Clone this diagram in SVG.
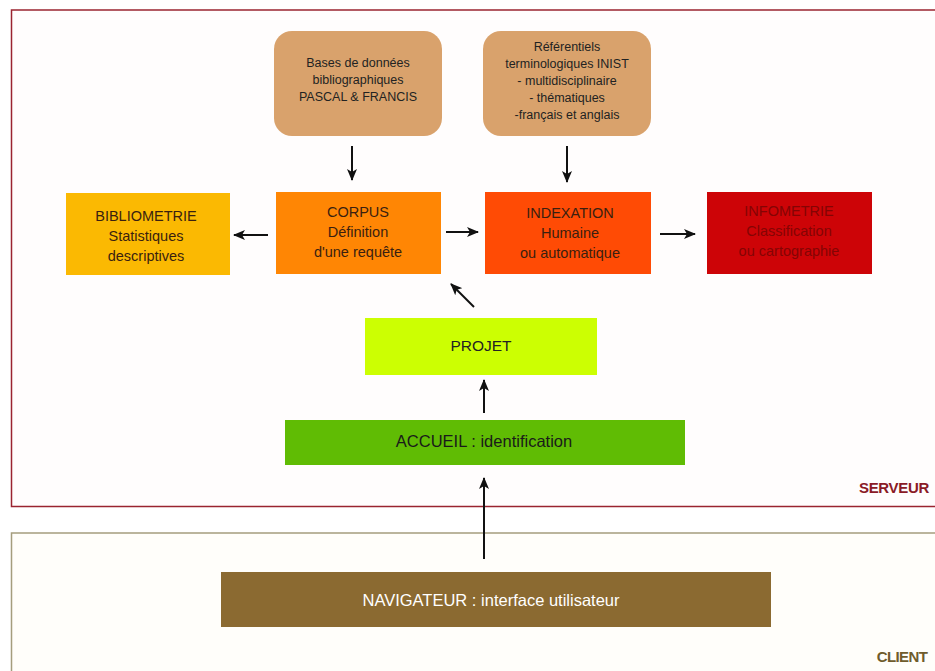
<svg xmlns="http://www.w3.org/2000/svg" width="935" height="671" viewBox="0 0 935 671">
<defs>
<marker id="ah" viewBox="0 0 12 10" refX="11" refY="5" markerWidth="12" markerHeight="10" markerUnits="userSpaceOnUse" orient="auto">
<path d="M0,0 L12,5 L0,10 L3,5 Z" fill="#111"/>
</marker>
<style>
text{font-family:"Liberation Sans",Arial,sans-serif;text-anchor:middle}
.src rect{fill:#d9a26c}
.src text{font-size:12.5px;fill:#222}
.n text{font-size:14.5px;fill:#3a1f10}
.conn line{stroke:#111;stroke-width:2;marker-end:url(#ah)}
</style>
</defs>
<rect width="935" height="671" fill="#ffffff"/>
<g id="serveur">
<rect x="11.5" y="10" width="940" height="496.5" fill="#fffdfd" stroke="#9a2430" stroke-width="1.5"/>
<text x="894" y="493" style="font-size:15px;font-weight:bold;fill:#8a1a26;letter-spacing:-0.3px">SERVEUR</text>
</g>
<g id="client">
<rect x="11.5" y="533" width="940" height="160" fill="#fffefa" stroke="#a59d7d" stroke-width="1.5"/>
<text x="902" y="662" style="font-size:15px;font-weight:bold;fill:#6f5c2c;letter-spacing:-0.6px">CLIENT</text>
</g>
<g id="bases" class="src">
<rect x="274" y="31" width="168" height="105" rx="18"/>
<text x="358" y="67">Bases de données</text>
<text x="358" y="84">bibliographiques</text>
<text x="358" y="101">PASCAL &amp; FRANCIS</text>
</g>
<g id="referentiels" class="src">
<rect x="483" y="31" width="168" height="105" rx="18"/>
<text x="567" y="51">Référentiels</text>
<text x="567" y="68">terminologiques INIST</text>
<text x="567" y="85">- multidisciplinaire</text>
<text x="567" y="102">- thématiques</text>
<text x="567" y="119">-français et anglais</text>
</g>
<g id="bibliometrie" class="n">
<rect x="66" y="193" width="164" height="82" fill="#fbb902"/>
<text x="146" y="221">BIBLIOMETRIE</text>
<text x="146" y="241">Statistiques</text>
<text x="146" y="261">descriptives</text>
</g>
<g id="corpus" class="n">
<rect x="276" y="192" width="165" height="82" fill="#ff8604"/>
<text x="358" y="217">CORPUS</text>
<text x="358" y="237">Définition</text>
<text x="358" y="257">d'une requête</text>
</g>
<g id="indexation" class="n">
<rect x="485" y="192" width="166" height="82" fill="#ff4b05"/>
<text x="570" y="218">INDEXATION</text>
<text x="570" y="238">Humaine</text>
<text x="570" y="258">ou automatique</text>
</g>
<g id="infometrie" class="n">
<rect x="707" y="192" width="165" height="82" fill="#cd0407"/>
<text x="789" y="216" style="fill:#840404">INFOMETRIE</text>
<text x="789" y="236" style="fill:#840404">Classification</text>
<text x="789" y="256" style="fill:#840404">ou cartographie</text>
</g>
<g id="projet" class="n">
<rect x="365" y="318" width="232" height="57" fill="#ccff02"/>
<text x="481" y="351" style="font-size:15.5px;fill:#222">PROJET</text>
</g>
<g id="accueil" class="n">
<rect x="285" y="420" width="400" height="45" fill="#60bc04"/>
<text x="484" y="447" style="font-size:16.5px;fill:#1a1a1a">ACCUEIL : identification</text>
</g>
<g id="navigateur" class="n">
<rect x="221" y="572" width="550" height="55" fill="#8b6a31"/>
<text x="491" y="606" style="font-size:16.5px;fill:#ffffff">NAVIGATEUR : interface utilisateur</text>
</g>
<g id="connectors" class="conn">
<line x1="352" y1="146" x2="352" y2="180"/>
<line x1="567" y1="146" x2="567" y2="182"/>
<line x1="268" y1="235" x2="234" y2="235"/>
<line x1="446" y1="232" x2="478" y2="232"/>
<line x1="660" y1="234" x2="695" y2="234"/>
<line x1="474" y1="307" x2="451" y2="284"/>
<line x1="484" y1="413" x2="484" y2="380"/>
<line x1="484" y1="559" x2="484" y2="478"/>
</g>
</svg>
